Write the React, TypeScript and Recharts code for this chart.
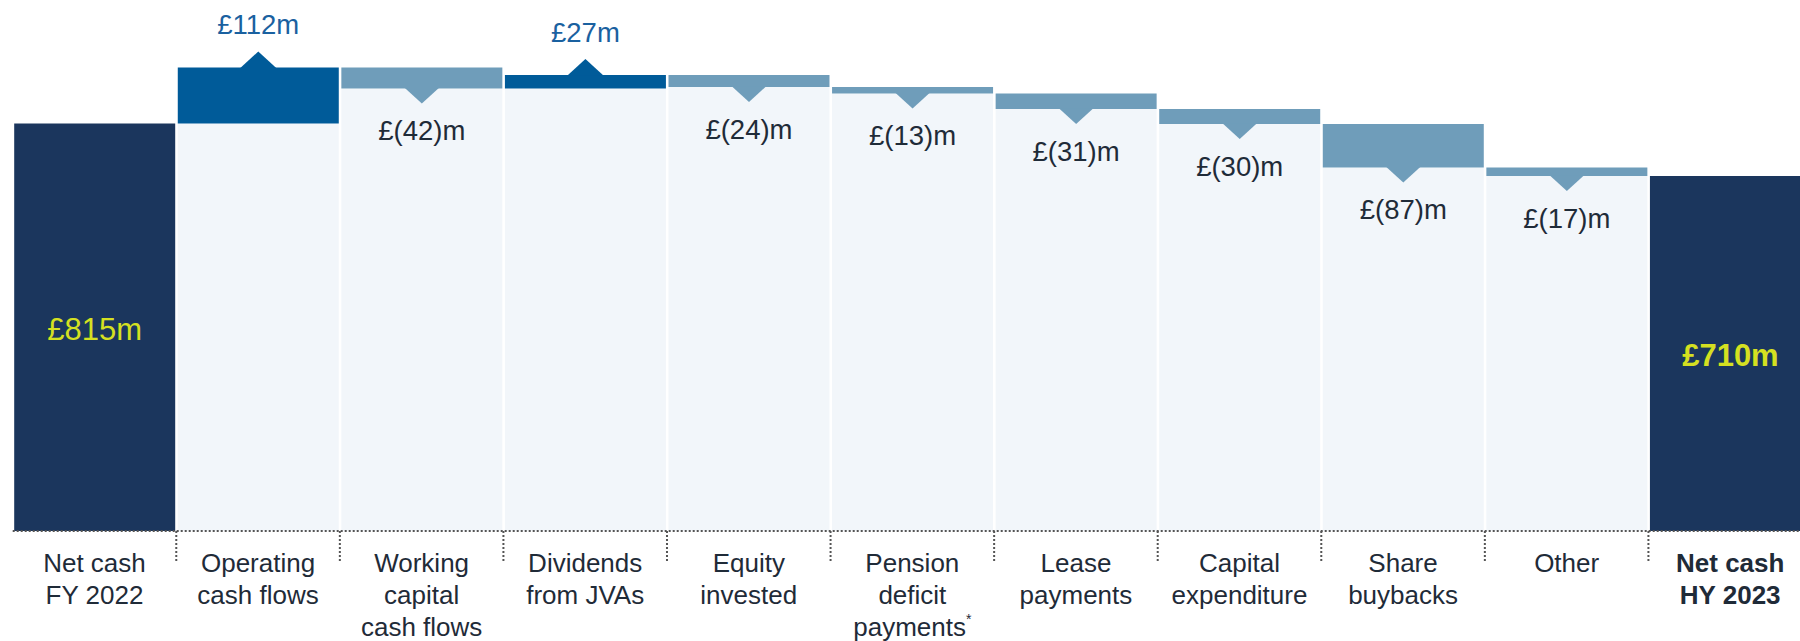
import React from 'react';
import { BarChart, Bar, XAxis, YAxis } from 'recharts';

// net cash bridge, £m
const categories = [
  'Net cash\nFY 2022',
  'Operating\ncash flows',
  'Working\ncapital\ncash flows',
  'Dividends\nfrom JVAs',
  'Equity\ninvested',
  'Pension\ndeficit\npayments*',
  'Lease\npayments',
  'Capital\nexpenditure',
  'Share\nbuybacks',
  'Other',
  'Net cash\nHY 2023',
];
const openingCash = 815;
const closingCash = 710;
const movements = [null, 112, -42, 27, -24, -13, -31, -30, -87, -17, null];

const NAVY = '#1b365d';
const UP = '#005b99';
const DOWN = '#6f9dba';
const PALE = '#f2f6fa';
const TEXT = '#1f2b38';
const UP_TEXT = '#1a61a0';
const YELLOW = '#d5e021';
const FONT = '"Liberation Sans", Arial, sans-serif';

const CHART_W = 1812;
const CHART_H = 641;
const LEFT = 12.7;
const SLOT = (CHART_W - LEFT) / categories.length;

let running = openingCash;
const rows = categories.map((name, i) => {
  const change = movements[i];
  if (i === 0) return { name, pale: 0, delta: 0, total: openingCash, change: null };
  if (i === categories.length - 1) return { name, pale: 0, delta: 0, total: closingCash, change: null };
  const before = running;
  running = running + (change as number);
  return { name, pale: Math.min(before, running), delta: Math.abs(change as number), total: 0, change };
});

const fmt = (v: number) => (v < 0 ? `£(${Math.abs(v)})m` : `£${v}m`);

const DeltaShape = (props: any) => {
  const { x, y, width, height, payload } = props;
  if (payload.change == null) return null;
  const cx = x + width / 2;
  const up = payload.change > 0;
  if (up) {
    return (
      <g>
        <rect x={x} y={y} width={width} height={height} fill={UP} />
        <polygon points={`${cx - 18},${y + 0.5} ${cx},${y - 16} ${cx + 18},${y + 0.5}`} fill={UP} />
        <text x={cx} y={y - 43} textAnchor="middle" dominantBaseline="central" fontSize={27.5} fill={UP_TEXT} fontFamily={FONT}>
          {fmt(payload.change)}
        </text>
      </g>
    );
  }
  const b = y + height;
  return (
    <g>
      <rect x={x} y={y} width={width} height={height} fill={DOWN} />
      <polygon points={`${cx - 17},${b - 0.5} ${cx},${b + 15} ${cx + 17},${b - 0.5}`} fill={DOWN} />
      <text x={cx} y={b + 42} textAnchor="middle" dominantBaseline="central" fontSize={27.5} fill={TEXT} fontFamily={FONT}>
        {fmt(payload.change)}
      </text>
    </g>
  );
};

const TotalShape = (props: any) => {
  const { x, y, width, height, payload, index } = props;
  if (!payload.total) return null;
  const last = index === categories.length - 1;
  return (
    <g>
      <rect x={x} y={y} width={width} height={height} fill={NAVY} />
      <text x={x + width / 2} y={y + height / 2 + 2} textAnchor="middle" dominantBaseline="central" fontSize={31}
        fontWeight={last ? 'bold' : 'normal'} fill={YELLOW} fontFamily={FONT}>
        {`£${payload.total}m`}
      </text>
    </g>
  );
};

const CategoryTick = (props: any) => {
  const { x, y, payload, index } = props;
  const lines = String(payload.value).split('\n');
  const last = index === categories.length - 1;
  return (
    <g>
      {index > 0 && (
        <line x1={x - SLOT / 2} x2={x - SLOT / 2} y1={y} y2={y + 32} stroke="#555" strokeWidth={2} strokeDasharray="2 2" />
      )}
      <text textAnchor="middle" fontSize={26} fill={TEXT} fontFamily={FONT} fontWeight={last ? 'bold' : 'normal'}>
        {lines.map((ln, i) => {
          const star = ln.endsWith('*');
          return (
            <tspan key={i} x={x} y={y + 41 + i * 32}>
              {star ? ln.slice(0, -1) : ln}
              {star && <tspan fontSize={14} dy={-12}>*</tspan>}
            </tspan>
          );
        })}
      </text>
    </g>
  );
};

export default function App() {
  return (
    <div style={{ position: 'absolute', left: 0, top: 0, width: 1800, height: CHART_H, overflow: 'hidden', background: '#fff' }}>
      <BarChart
        width={CHART_W}
        height={CHART_H}
        data={rows}
        margin={{ top: 31, right: 0, bottom: 0, left: LEFT }}
        barCategoryGap={1.5}
      >
        <XAxis
          dataKey="name"
          height={110}
          interval={0}
          tickLine={false}
          tickSize={0}
          tickMargin={0}
          axisLine={{ stroke: '#555', strokeWidth: 2, strokeDasharray: '2 2' }}
          tick={<CategoryTick />}
        />
        <YAxis hide domain={[0, 1000]} />
        <Bar dataKey="pale" stackId="a" fill={PALE} isAnimationActive={false} />
        <Bar dataKey="delta" stackId="a" shape={<DeltaShape />} isAnimationActive={false} />
        <Bar dataKey="total" stackId="a" shape={<TotalShape />} isAnimationActive={false} />
      </BarChart>
    </div>
  );
}
